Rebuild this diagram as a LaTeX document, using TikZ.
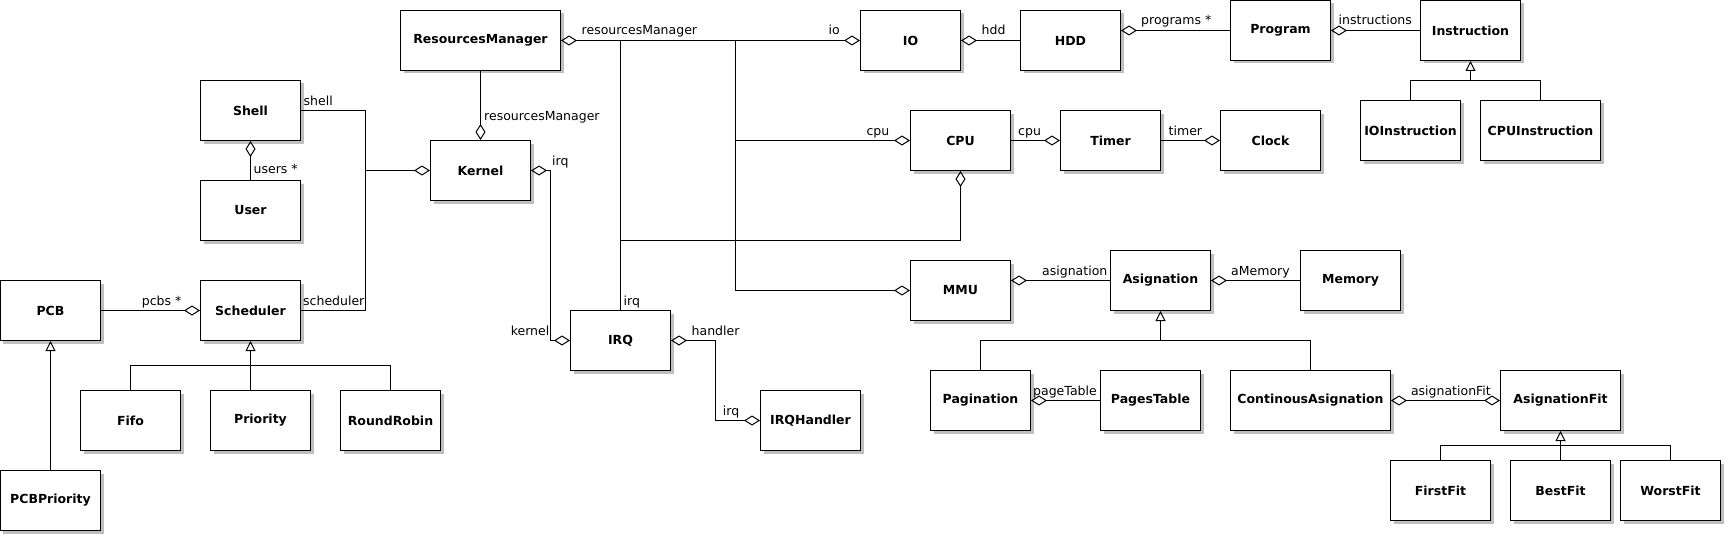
\documentclass[tikz,border=0pt]{standalone}
\usepackage{fontspec}
\setmainfont{DejaVu Sans}
\usepackage{tikz}
\usetikzlibrary{arrows.meta,shadows}
\newcommand{\clsfont}{\fontsize{12.5}{15}\selectfont\bfseries}
\newcommand{\lblfont}{\fontsize{12.5}{15}\selectfont}
\tikzset{
  odiam/.tip={Diamond[open,length=16pt,width=10pt]},
  otri/.tip={Triangle[open,length=10pt,width=10pt]},
  clsbox/.style={draw, fill=white, line width=1pt, minimum width=100pt,
                 minimum height=60pt, font=\clsfont, inner sep=2pt,
                 drop shadow={shadow xshift=3pt, shadow yshift=-3pt,
                              fill=black!25, opacity=1}},
  widebox/.style={clsbox, minimum width=160pt},
  midbox/.style={clsbox, minimum width=120pt},
  assoc/.style={line width=1pt},
  agg/.style={assoc, odiam-},
  aggr/.style={assoc, -odiam},
  aggboth/.style={assoc, odiam-odiam},
  inh/.style={assoc, -otri},
  rolelbl/.style={font=\lblfont, inner sep=0pt}
}

\begin{document}
\begin{tikzpicture}[x=1pt, y=-1pt]
    \useasboundingbox (-0.5,-0.5) rectangle (1724.5,534.5);
    \def\xBusA{620} \def\xBusB{735}

    % Classes, left part
    \node[widebox] (RM)         at (480,40)  {ResourcesManager};
    \node[clsbox]  (Shell)      at (250,110) {Shell};
    \node[clsbox]  (User)       at (250,210) {User};
    \node[clsbox]  (Kernel)     at (480,170) {Kernel};
    \node[clsbox]  (PCB)        at (50,310)  {PCB};
    \node[clsbox]  (Scheduler)  at (250,310) {Scheduler};
    \node[clsbox]  (Fifo)       at (130,420) {Fifo};
    \node[clsbox]  (Priority)   at (260,420) {Priority};
    \node[clsbox]  (RoundRobin) at (390,420) {RoundRobin};
    \node[clsbox]  (PCBPriority) at (50,500) {PCBPriority};
    \node[clsbox]  (IRQ)        at (620,340) {IRQ};
    \node[clsbox]  (IRQHandler) at (810,420) {IRQHandler};

    % Classes, hardware
    \node[clsbox]  (IO)          at (910,40)   {IO};
    \node[clsbox]  (HDD)         at (1070,40)  {HDD};
    \node[clsbox]  (Program)     at (1280,30)  {Program};
    \node[clsbox]  (Instruction) at (1470,30)  {Instruction};
    \node[clsbox]  (IOInstruction)  at (1410,130) {IOInstruction};
    \node[midbox]  (CPUInstruction) at (1540,130) {CPUInstruction};
    \node[clsbox]  (CPU)         at (960,140)  {CPU};
    \node[clsbox]  (Timer)       at (1110,140) {Timer};
    \node[clsbox]  (Clock)       at (1270,140) {Clock};

    % Classes, memory
    \node[clsbox]  (MMU)         at (960,290)  {MMU};
    \node[clsbox]  (Asignation)  at (1160,280) {Asignation};
    \node[clsbox]  (Memory)      at (1350,280) {Memory};
    \node[clsbox]  (Pagination)  at (980,400)  {Pagination};
    \node[clsbox]  (PagesTable)  at (1150,400) {PagesTable};
    \node[widebox] (ContinousAsignation) at (1310,400) {ContinousAsignation};
    \node[midbox]  (AsignationFit) at (1560,400) {AsignationFit};
    \node[clsbox]  (FirstFit)    at (1440,490) {FirstFit};
    \node[clsbox]  (BestFit)     at (1560,490) {BestFit};
    \node[clsbox]  (WorstFit)    at (1670,490) {WorstFit};

    % Junction points
    \coordinate (kj) at (365,170);
    \coordinate (ki) at (550,255);
    \coordinate (hj) at (715,380);
    \coordinate (b1) at (\xBusA,40);
    \coordinate (b2) at (\xBusB,40);
    \coordinate (b3) at (\xBusB,140);
    \coordinate (b4) at (\xBusA,240);
    \coordinate (gS) at (250,365);
    \coordinate (gI) at (1470,80);
    \coordinate (gA) at (1160,340);
    \coordinate (gF) at (1560,445);

    % Kernel
    \draw[assoc] (Shell) -| (kj) |- (Scheduler);
    \draw[aggr] (kj) -- (Kernel);
    \draw[aggr] (RM) -- (Kernel);
    \draw[agg] (Shell) -- (User);
    \draw[aggr] (PCB) -- (Scheduler);
    \draw[aggboth] (Kernel) -| (ki) |- (IRQ);
    \draw[aggboth] (IRQ) -| (hj) |- (IRQHandler);

    % ResourcesManager bus
    \draw[aggboth] (RM) -- (IO);
    \draw[assoc] (b1) -- (IRQ);
    \draw[aggr] (b2) |- (MMU);
    \draw[aggr] (b3) -- (CPU);
    \draw[aggr] (b4) -| (CPU);

    % Hardware
    \draw[agg] (IO) -- (HDD);
    \draw[agg] (HDD.east |- Program) -- (Program);
    \draw[agg] (Program) -- (Instruction);
    \draw[aggr] (CPU) -- (Timer);
    \draw[aggr] (Timer) -- (Clock);

    % Memory
    \draw[agg] (MMU.east |- Asignation) -- (Asignation);
    \draw[agg] (Asignation) -- (Memory);
    \draw[agg] (Pagination) -- (PagesTable);
    \draw[aggboth] (ContinousAsignation) -- (AsignationFit);

    % Generalisations
    \draw[inh] (PCBPriority) -- (PCB);
    \draw[inh] (gS) -- (Scheduler.south);
    \draw[assoc] (Fifo) |- (gS) -| (RoundRobin);
    \draw[assoc] (gS) -- (gS |- Priority.north);
    \draw[inh] (gI) -- (Instruction.south);
    \draw[assoc] (IOInstruction) |- (gI) -| (CPUInstruction);
    \draw[inh] (gA) -- (Asignation.south);
    \draw[assoc] (Pagination) |- (gA) -| (ContinousAsignation);
    \draw[inh] (gF) -- (AsignationFit.south);
    \draw[assoc] (FirstFit) |- (gF) -| (WorstFit);
    \draw[assoc] (gF) -- (BestFit);

    % Role names
    \node[rolelbl, anchor=base west] (lShell)  at (303,104.5)  {shell};
    \node[rolelbl, anchor=base west] (lSched)  at (302.5,304.5) {scheduler};
    \node[rolelbl, anchor=base west] (lUsers)  at (253,173)    {users *};
    \node[rolelbl, anchor=base east] (lPcbs)   at (181,304.5)  {pcbs *};
    \node[rolelbl, anchor=base west] (lRmK)    at (483.5,119.5) {resourcesManager};
    \node[rolelbl, anchor=base west] (lIrqK)   at (551.5,164.5) {irq};
    \node[rolelbl, anchor=base east] (lKernel) at (549,334.5)  {kernel};
    \node[rolelbl, anchor=base west] (lIrqT)   at (623,304.5)  {irq};
    \node[rolelbl, anchor=base west] (lHandler) at (691,334.5) {handler};
    \node[rolelbl, anchor=base east] (lIrqH)   at (739,414.5)  {irq};
    \node[rolelbl, anchor=base west] (lRmIO)   at (581,34.5)   {resourcesManager};
    \node[rolelbl, anchor=base east] (lIO)     at (839.5,34.5) {io};
    \node[rolelbl, anchor=base east] (lCpuB)   at (889,134.5)  {cpu};
    \node[rolelbl, anchor=base west] (lHdd)    at (981,34.5)   {hdd};
    \node[rolelbl, anchor=base west] (lProgs)  at (1140.5,24.5) {programs *};
    \node[rolelbl, anchor=base west] (lInstr)  at (1338,24.5)  {instructions};
    \node[rolelbl, anchor=base west] (lCpuT)   at (1017.5,134.5) {cpu};
    \node[rolelbl, anchor=base west] (lTimer)  at (1168,134.5) {timer};
    \node[rolelbl, anchor=base east] (lAsig)   at (1107,274.5) {asignation};
    \node[rolelbl, anchor=base west] (lAMem)   at (1230.5,274.5) {aMemory};
    \node[rolelbl, anchor=base west] (lPage)   at (1032.5,394.5) {pageTable};
    \node[rolelbl, anchor=base east] (lAFit)   at (1490.5,394.5) {asignationFit};
\end{tikzpicture}
\end{document}
